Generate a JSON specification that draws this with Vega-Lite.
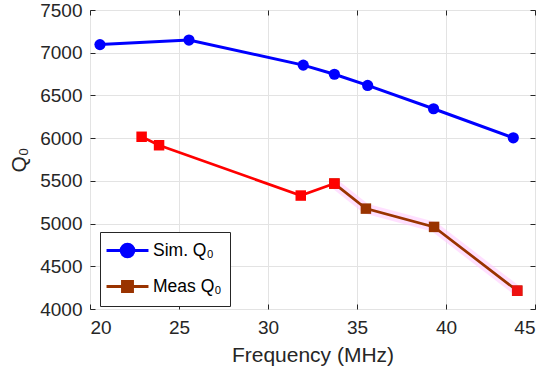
{
  "$schema": "https://vega.github.io/schema/vega-lite/v6.json",
  "width": 445,
  "height": 299,
  "autosize": "none",
  "padding": {"left": 90, "top": 10, "right": 15, "bottom": 66},
  "config": {
    "font": "Liberation Sans",
    "view": {"stroke": "#262626", "strokeWidth": 1},
    "axis": {"labelFont": "Liberation Sans", "titleFont": "Liberation Sans", "labelColor": "#262626", "titleColor": "#262626", "domainColor": "#262626", "tickColor": "#262626", "gridColor": "#e3e3e3", "labelFontSize": 19, "titleFontSize": 21, "titleFontWeight": "normal", "format": "d"}
  },
  "datasets": {
    "sim": [
      {"f": 20.56, "q": 7095, "series": "Sim. Q₀"},
      {"f": 25.56, "q": 7148, "series": "Sim. Q₀"},
      {"f": 31.98, "q": 6855, "series": "Sim. Q₀"},
      {"f": 33.73, "q": 6748, "series": "Sim. Q₀"},
      {"f": 35.6, "q": 6617, "series": "Sim. Q₀"},
      {"f": 39.3, "q": 6344, "series": "Sim. Q₀"},
      {"f": 43.78, "q": 6004, "series": "Sim. Q₀"}
    ],
    "measA": [
      {"f": 22.9, "q": 6016, "series": "Meas Q₀"},
      {"f": 23.88, "q": 5917, "series": "Meas Q₀"},
      {"f": 31.84, "q": 5328, "series": "Meas Q₀"},
      {"f": 33.73, "q": 5468, "series": "Meas Q₀"}
    ],
    "measB": [
      {"f": 33.73, "q": 5468, "series": "Meas Q₀"},
      {"f": 35.5, "q": 5175, "series": "Meas Q₀"},
      {"f": 39.33, "q": 4961, "series": "Meas Q₀"},
      {"f": 44.0, "q": 4214, "series": "Meas Q₀"}
    ]
  },
  "layer": [
    {
      "data": {"name": "sim"},
      "mark": {"type": "line", "strokeWidth": 3},
      "encoding": {
        "x": {"field": "f", "type": "quantitative", "scale": {"domain": [20, 45], "nice": false}, "axis": {"title": "Frequency (MHz)", "values": [20, 25, 30, 35, 40, 45], "offset": -5, "tickSize": 5, "grid": true, "domain": false, "labelPadding": 9, "titlePadding": 7}},
        "y": {"field": "q", "type": "quantitative", "scale": {"domain": [4000, 7500], "nice": false, "zero": false}, "axis": {"title": "Q₀", "values": [4000, 4500, 5000, 5500, 6000, 6500, 7000, 7500], "offset": -5, "tickSize": 5, "grid": true, "domain": false, "labelPadding": 8, "titlePadding": 10}},
        "color": {"field": "series", "type": "nominal", "scale": {"domain": ["Sim. Q₀", "Meas Q₀"], "range": ["#0000ff", "#993300"]},
          "legend": {"title": null, "orient": "none", "legendX": 10, "legendY": 222, "direction": "vertical", "strokeColor": "#262626", "fillColor": "white", "padding": 8, "labelFontSize": 17.5, "labelFont": "Liberation Sans", "labelColor": "#000000", "symbolSize": 324, "symbolStrokeWidth": 3, "rowPadding": 12, "labelOffset": 24,
            "encode": {"symbols": {"update": {"shape": {"signal": "datum.value == 'Sim. Q₀' ? 'M-1.33,0H0.3M1.7,0H3.33M0.3,0A0.7,0.7 0 1,1 1.7,0A0.7,0.7 0 1,1 0.3,0Z' : 'M-1.33,0H0.45M1.55,0H3.33M0.45,-0.55H1.55V0.55H0.45Z'"}, "fillOpacity": {"value": 1}, "strokeWidth": {"value": 3}}}}}
        }
      }
    },
    {
      "data": {"name": "sim"},
      "mark": {"type": "line", "strokeWidth": 0, "opacity": 0},
      "encoding": {
        "x": {"field": "f", "type": "quantitative", "axis": {"orient": "top", "title": null, "labels": false, "values": [20, 25, 30, 35, 40, 45], "offset": -5, "tickSize": 5, "grid": false, "domain": false}},
        "y": {"field": "q", "type": "quantitative", "axis": {"orient": "right", "title": null, "labels": false, "values": [4000, 4500, 5000, 5500, 6000, 6500, 7000, 7500], "offset": -5, "tickSize": 5, "grid": false, "domain": false}}
      }
    },
    {
      "data": {"name": "measB"},
      "mark": {"type": "line", "strokeWidth": 10, "color": "#ffccff", "opacity": 0.6},
      "encoding": {
        "x": {"field": "f", "type": "quantitative", "axis": null},
        "y": {"field": "q", "type": "quantitative", "axis": null}
      }
    },
    {
      "data": {"name": "measA"},
      "mark": {"type": "line", "strokeWidth": 2.7, "color": "#ff0000"},
      "encoding": {
        "x": {"field": "f", "type": "quantitative", "axis": null},
        "y": {"field": "q", "type": "quantitative", "axis": null}
      }
    },
    {
      "data": {"name": "measB"},
      "mark": {"type": "line", "strokeWidth": 2.7},
      "encoding": {
        "x": {"field": "f", "type": "quantitative", "axis": null},
        "y": {"field": "q", "type": "quantitative", "axis": null},
        "color": {"field": "series", "type": "nominal"}
      }
    },
    {
      "data": {"name": "sim"},
      "mark": {"type": "point", "shape": "circle", "filled": true, "size": 125, "opacity": 1},
      "encoding": {
        "x": {"field": "f", "type": "quantitative", "axis": null},
        "y": {"field": "q", "type": "quantitative", "axis": null},
        "color": {"field": "series", "type": "nominal"}
      }
    },
    {
      "data": {"name": "measB"},
      "mark": {"type": "point", "shape": "square", "filled": true, "size": 110, "opacity": 1},
      "encoding": {
        "x": {"field": "f", "type": "quantitative", "axis": null},
        "y": {"field": "q", "type": "quantitative", "axis": null},
        "color": {"field": "series", "type": "nominal"}
      }
    },
    {
      "data": {"name": "measA"},
      "mark": {"type": "point", "shape": "square", "filled": true, "size": 110, "opacity": 1, "color": "#ff0000"},
      "encoding": {
        "x": {"field": "f", "type": "quantitative", "axis": null},
        "y": {"field": "q", "type": "quantitative", "axis": null}
      }
    },
    {
      "data": {"name": "measB"},
      "transform": [{"filter": "datum.f > 43"}],
      "mark": {"type": "point", "shape": "square", "filled": true, "size": 110, "opacity": 1, "color": "#ee1111"},
      "encoding": {
        "x": {"field": "f", "type": "quantitative", "axis": null},
        "y": {"field": "q", "type": "quantitative", "axis": null}
      }
    }
  ],
  "resolve": {"axis": {"x": "independent", "y": "independent"}}
}
